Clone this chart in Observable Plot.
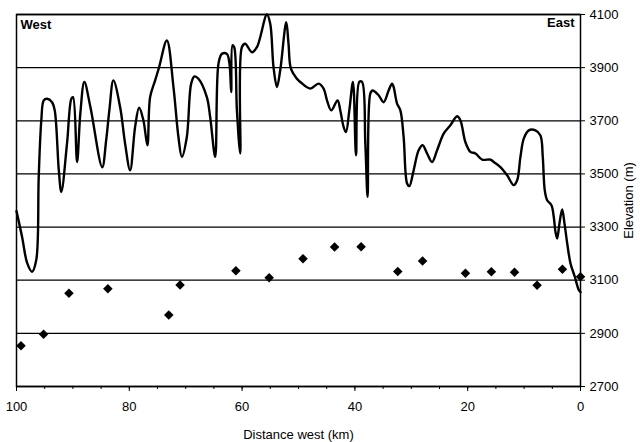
<!DOCTYPE html>
<html><head><meta charset="utf-8">
<script src="https://cdn.jsdelivr.net/npm/d3@7"></script>
<script src="https://cdn.jsdelivr.net/npm/@observablehq/plot@0.6"></script>
<style>body{margin:0;background:#fff;}</style>
</head><body><div id="chart"></div>
<script>
// Elevation profile (distance west in km, elevation in m)
const profileDist = [100, 99.0, 98.1, 97.25, 96.5, 96.06, 95.6, 95.17, 94.59, 93.7,
  93.22, 92.5, 92.05, 91.04, 90.27, 89.97, 89.26, 88.68, 87.97, 86.9,
  84.8, 84.1, 83.5, 82.82, 81.63, 80.75, 79.86, 78.97, 78.26, 77.5,
  76.79, 76.31, 75.42, 74.71, 73.34, 72.17, 71.29, 70.68, 69.8, 69.03,
  68.45, 67.74, 66.25, 65.66, 64.77, 64.19, 63.58, 62.7, 62.24, 61.93,
  61.7, 61.4, 60.92, 60.33, 60.04, 59.45, 58.26, 57.37, 55.6, 55.01,
  54.43, 53.82, 53.24, 52.17, 51.77, 51.34, 50.27, 49.69, 47.91, 46.44,
  45.55, 44.95, 44.19, 43.07, 42.59, 42.0, 41.58, 40.99, 40.34, 39.8,
  39.22, 38.74, 38.15, 37.75, 37.27, 36.86, 35.79, 34.91, 34.02, 33.42,
  33.13, 32.53, 31.94, 31.36, 30.75, 30.35, 29.58, 28.7, 27.99, 27.2,
  26.32, 25.43, 24.26, 23.07, 21.88, 21.3, 20.41, 19.52, 18.63, 17.44,
  15.97, 15.39, 14.2, 13.01, 11.84, 11.23, 10.65, 10.06, 9.17, 7.99,
  7.1, 6.69, 6.34, 5.91, 5.15, 4.74, 4.44, 4.13, 3.73, 3.25,
  2.84, 2.36, 1.77, 1.01, 0.3, 0];
const profileElev = [3360, 3262, 3164, 3132, 3176, 3489, 3702, 3777, 3783, 3770,
  3739, 3514, 3432, 3615, 3783, 3789, 3545, 3728, 3846, 3752,
  3525, 3627, 3747, 3852, 3752, 3615, 3514, 3677, 3749, 3702,
  3608, 3789, 3852, 3902, 4002, 3827, 3639, 3564, 3639, 3840,
  3867, 3858, 3789, 3714, 3564, 3915, 3952, 3952, 3915, 3808,
  3984, 3977, 3739, 3577, 3977, 3990, 3958, 3977, 4100, 4065,
  3902, 3827, 3890, 4071, 3990, 3896, 3858, 3846, 3821, 3840,
  3821, 3777, 3739, 3777, 3739, 3677, 3658, 3739, 3846, 3570,
  3846, 3846, 3614, 3414, 3802, 3814, 3796, 3770, 3814, 3840,
  3827, 3765, 3739, 3639, 3464, 3454, 3514, 3589, 3608, 3577,
  3545, 3589, 3652, 3683, 3717, 3702, 3620, 3583, 3577, 3554,
  3554, 3545, 3526, 3495, 3458, 3476, 3564, 3633, 3664, 3664,
  3645, 3564, 3439, 3401, 3382, 3338, 3282, 3257, 3314, 3366,
  3314, 3239, 3163, 3113, 3063, 3055];

// Sample points (diamonds)
const sampleDist = [99.2, 95.2, 90.7, 83.8, 73.0, 71.0, 61.1, 55.2, 49.2, 43.6, 38.9, 32.4, 28.0, 20.4, 15.8, 11.7, 7.7, 3.2, 0];
const sampleElev = [2853, 2897, 3051, 3068, 2969, 3082, 3136, 3109, 3181, 3225, 3226, 3133, 3172, 3126, 3132, 3130, 3081, 3141, 3113];

const xTicks = [100, 80, 60, 40, 20, 0];
const xMinorTicks = d3.range(0, 101, 5);
const yTicks = [2700, 2900, 3100, 3300, 3500, 3700, 3900, 4100];

const profile = profileDist.map((d, i) => ({d, e: profileElev[i]}));
const samples = sampleDist.map((d, i) => ({d, e: sampleElev[i]}));

const chart = Plot.plot({
  width: 640, height: 442,
  marginLeft: 16, marginRight: 60, marginTop: 14, marginBottom: 56,
  style: {fontFamily: "'Liberation Sans', Arial, sans-serif", fontSize: "13px", background: "#fff", color: "#000"},
  x: {domain: [100, 0], label: null},
  y: {domain: [2700, 4100], label: null},
  marks: [
    Plot.ruleY(yTicks, {stroke: "#000", strokeWidth: 1.3}),
    Plot.frame({stroke: "#000", strokeWidth: 1.5}),
    Plot.line(profile, {x: "d", y: "e", curve: "catmull-rom", stroke: "#000", strokeWidth: 2.4}),
    Plot.dot(samples, {x: "d", y: "e", symbol: "diamond2", r: 4.3, fill: "#000", stroke: null}),
    Plot.axisX(xMinorTicks, {tickSize: 3, tickFormat: () => "", label: null, stroke: "#000"}),
    Plot.axisX(xTicks, {tickSize: 5, tickPadding: 10, tickFormat: d => String(d), label: null, stroke: "#000", fill: "#000"}),
    Plot.axisY(yTicks, {anchor: "right", tickSize: 4, tickPadding: 5, tickFormat: d => String(d), label: null, stroke: "#000", fill: "#000"}),
    Plot.text(["Elevation (m)"], {frameAnchor: "right", dx: 48, rotate: -90, textAnchor: "middle", lineAnchor: "middle", fill: "#000"}),
    Plot.text(["Distance west (km)"], {frameAnchor: "bottom", dy: 48, textAnchor: "middle", lineAnchor: "middle", fill: "#000"}),
    Plot.text(["West"], {frameAnchor: "top-left", dx: 4, dy: 5, textAnchor: "start", lineAnchor: "top", fontWeight: "bold", fill: "#000"}),
    Plot.text(["East"], {frameAnchor: "top-right", dx: -6, dy: 3, textAnchor: "end", lineAnchor: "top", fontWeight: "bold", fill: "#000"})
  ]
});
document.getElementById("chart").appendChild(chart);
</script>
</body></html>
